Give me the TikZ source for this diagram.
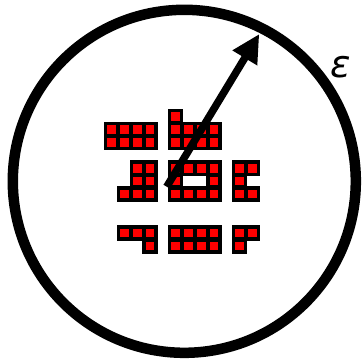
\documentclass[tikz,border=0pt]{standalone}
\usepackage{fontspec}
\newfontfamily\epsfont{DejaVu Sans}
\usetikzlibrary{arrows.meta}
\begin{document}
\begin{tikzpicture}[x=1bp,y=-1bp,
  cellback/.style={fill=black,draw=black,line width=2.6bp},
  cellface/.style={fill=red},
  ring/.style={draw=black,line width=10.5bp},
  pointer/.style={draw=black,line width=7.5bp,-{Triangle[length=28bp,width=27bp]}},
  lbl/.style={font=\epsfont\itshape\fontsize{38}{44}\selectfont,inner sep=0pt}]
\useasboundingbox (0,0) rectangle (362,362);
\fill[white] (0,0) rectangle (362,362);
\draw[ring] (184.3,181.3) circle[radius=171.5bp];
\def\cells{0/0,1/0,2/0,3/0,0/1,1/1,2/1,3/1,
5/-1,5/0,6/0,7/0,8/0,5/1,6/1,7/1,8/1,
2/3,3/3,2/4,3/4,1/5,2/5,3/5,
5/3,6/3,7/3,8/3,5/4,8/4,5/5,6/5,7/5,8/5,
10/3,11/3,10/4,10/5,11/5,
1/8,2/8,3/8,3/9,
5/8,6/8,7/8,8/8,5/9,6/9,7/9,8/9,
10/8,11/8,10/9}
\foreach \c/\r in \cells {
  \path[cellback] ({111.7+\c*12.8-6.4},{129.3+\r*12.95-6.475}) rectangle +(12.8,12.95);
}
\foreach \c/\r in \cells {
  \path[cellface] ({111.7+\c*12.8-4.35},{129.3+\r*12.95-4.35}) rectangle +(8.7,8.7);
}
\coordinate (s) at (166.7,186.7);
\coordinate (t) at (259.3,34);
\draw[pointer] (s) -- (t);
\node[lbl] (eps) at (340.5,67) {ε};
\end{tikzpicture}
\end{document}
